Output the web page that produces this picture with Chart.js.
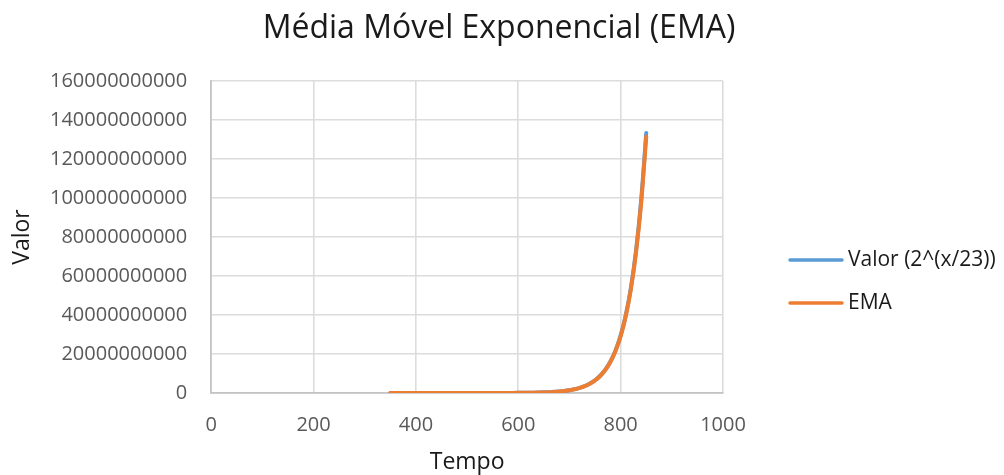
<!DOCTYPE html>
<html>
<head>
<meta charset="utf-8">
<script src="https://cdn.jsdelivr.net/npm/chart.js@4/dist/chart.umd.min.js"></script>
<style>
  html, body { margin: 0; padding: 0; background: #ffffff; }
  #wrap { width: 1004px; height: 475px; }
</style>
</head>
<body>
<div id="wrap"><canvas id="c" width="1004" height="475"></canvas></div>
<script>
// Time steps (x) sampled along the series
const tempo = [
  350, 360, 370, 380, 390, 400, 410, 420, 430, 440,
  450, 460, 470, 480, 490, 500, 510, 520, 530, 540,
  550, 560, 570, 580, 590, 600, 610, 620, 630, 640,
  650, 660, 670, 680, 690, 700, 710, 720, 730, 740,
  750, 760, 770, 780, 790, 800, 810, 820, 830, 840,
  850
];

// Valor (2^(x/23))
const valor = [
  3.810e4, 5.150e4, 6.961e4, 9.409e4, 1.2718e5, 1.7191e5, 2.3237e5, 3.141e5, 4.2457e5, 5.739e5,
  7.7575e5, 1.0486e6, 1.4174e6, 1.9159e6, 2.5897e6, 3.5005e6, 4.7316e6, 6.3959e6, 8.6454e6, 1.1686e7,
  1.5796e7, 2.1352e7, 2.8862e7, 3.9011e7, 5.2731e7, 7.1277e7, 9.6347e7, 1.3023e8, 1.7604e8, 2.3795e8,
  3.2164e8, 4.3477e8, 5.8768e8, 7.9436e8, 1.0737e9, 1.4514e9, 1.9618e9, 2.6518e9, 3.5845e9, 4.8452e9,
  6.5494e9, 8.8527e9, 1.1966e10, 1.6175e10, 2.1864e10, 2.9553e10, 3.9947e10, 5.3996e10, 7.2987e10, 9.8659e10,
  1.3336e11
];

// EMA of the series (trails slightly below)
const ema = [
  3.753e4, 5.073e4, 6.857e4, 9.268e4, 1.2527e5, 1.6933e5, 2.2888e5, 3.0939e5, 4.1820e5, 5.6529e5,
  7.6411e5, 1.0329e6, 1.3961e6, 1.8872e6, 2.5509e6, 3.4480e6, 4.6606e6, 6.2999e6, 8.5157e6, 1.1511e7,
  1.5559e7, 2.1032e7, 2.8429e7, 3.8426e7, 5.1940e7, 7.0208e7, 9.4902e7, 1.2828e8, 1.7340e8, 2.3438e8,
  3.1682e8, 4.2825e8, 5.7886e8, 7.8244e8, 1.0576e9, 1.4296e9, 1.9324e9, 2.6120e9, 3.5307e9, 4.7725e9,
  6.4512e9, 8.7199e9, 1.1787e10, 1.5932e10, 2.1536e10, 2.9110e10, 3.9348e10, 5.3186e10, 7.1892e10, 9.7179e10,
  1.3136e11
];

const seriesNames = ['Valor (2^(x/23))', 'EMA'];
const seriesColors = ['#5B9BD5', '#ED7D31'];

const titleText = 'Média Móvel Exponencial (EMA)';
const xTitle = 'Tempo';
const yTitle = 'Valor';

const xMin = 0, xMax = 1000, xStep = 200;
const yMin = 0, yMax = 160000000000, yStep = 20000000000;

const FONT = "'Open Sans', 'Liberation Sans', sans-serif";
const TEXT_DARK = '#1a1a1a';

function toPoints(xs, ys) {
  return xs.map((x, i) => ({ x: x, y: ys[i] }));
}

// Chart title, axis titles and the side legend
const decorations = {
  id: 'decorations',
  afterDraw(chart) {
    const ctx = chart.ctx;
    const area = chart.chartArea;
    ctx.save();

    // main title, centred on the canvas
    ctx.fillStyle = TEXT_DARK;
    ctx.font = "32px " + FONT;
    ctx.textAlign = 'center';
    ctx.textBaseline = 'alphabetic';
    ctx.fillText(titleText, 499, 38);

    // x axis title
    ctx.font = "23px " + FONT;
    ctx.textBaseline = 'middle';
    ctx.fillText(xTitle, (area.left + area.right) / 2, 462);

    // y axis title, rotated
    ctx.save();
    ctx.translate(22, (area.top + area.bottom) / 2);
    ctx.rotate(-Math.PI / 2);
    ctx.fillText(yTitle, 0, 0);
    ctx.restore();

    // legend: line swatch + label
    const x0 = 790, x1 = 842, textX = 848;
    const rows = [260, 303];
    chart.data.datasets.forEach((ds, i) => {
      const y = rows[i];
      ctx.strokeStyle = ds.borderColor;
      ctx.lineWidth = 3.5;
      ctx.lineCap = 'round';
      ctx.beginPath();
      ctx.moveTo(x0, y);
      ctx.lineTo(x1, y);
      ctx.stroke();
      ctx.fillStyle = TEXT_DARK;
      ctx.font = "21px " + FONT;
      ctx.textAlign = 'left';
      ctx.textBaseline = 'middle';
      ctx.fillText(ds.label, textX, y);
    });
    ctx.restore();
  }
};

new Chart(document.getElementById('c'), {
  type: 'scatter',
  data: {
    datasets: [
      {
        label: seriesNames[0],
        data: toPoints(tempo, valor),
        showLine: true,
        order: 1,
        borderColor: seriesColors[0],
        backgroundColor: seriesColors[0],
        borderWidth: 4,
        pointRadius: 0,
        cubicInterpolationMode: 'monotone',
        borderCapStyle: 'round',
        borderJoinStyle: 'round'
      },
      {
        label: seriesNames[1],
        data: toPoints(tempo, ema),
        showLine: true,
        order: 0,
        borderColor: seriesColors[1],
        backgroundColor: seriesColors[1],
        borderWidth: 4,
        pointRadius: 0,
        cubicInterpolationMode: 'monotone',
        borderCapStyle: 'round',
        borderJoinStyle: 'round'
      }
    ]
  },
  options: {
    responsive: false,
    animation: false,
    layout: { padding: { left: 26, right: 281, top: 81, bottom: 18 } },
    plugins: {
      legend: { display: false },
      tooltip: { enabled: false },
      title: { display: false }
    },
    scales: {
      x: {
        type: 'linear',
        min: xMin, max: xMax,
        ticks: {
          stepSize: xStep,
          color: '#595959',
          font: { family: FONT, size: 20 },
          padding: 20,
          callback: (v) => String(v)
        },
        grid: { color: '#dcdcdc', lineWidth: 1.6, drawTicks: false },
        border: { color: '#c4c4c4', width: 1.8 }
      },
      y: {
        type: 'linear',
        min: yMin, max: yMax,
        ticks: {
          stepSize: yStep,
          color: '#595959',
          font: { family: FONT, size: 20 },
          padding: 24,
          callback: (v) => String(v)
        },
        grid: { color: '#dcdcdc', lineWidth: 1.6, drawTicks: false },
        border: { color: '#c4c4c4', width: 1.8 }
      }
    }
  },
  plugins: [decorations]
});
</script>
</body>
</html>
